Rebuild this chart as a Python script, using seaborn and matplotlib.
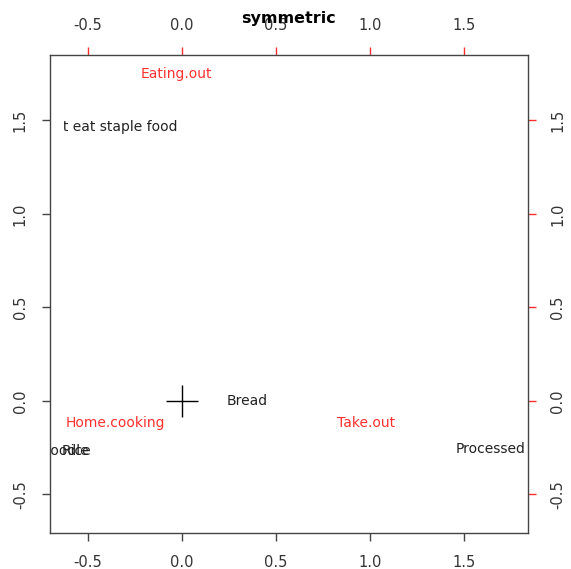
import matplotlib
matplotlib.use("Agg")
import matplotlib.pyplot as plt
from matplotlib.transforms import Bbox
import seaborn as sns

sns.set_theme(style="white")
plt.rcParams["font.family"] = ["DejaVu Sans"]

# Row coordinates (staple food types)
row_labels = ["Bread", "Processed", "Rice", "Noodle", "Don't eat staple food"]
row_x = [0.35, 1.64, -0.56, -0.62, -0.41]
row_y = [0.0, -0.257, -0.267, -0.267, 1.465]

# Column coordinates (eating style)
col_labels = ["Eating.out", "Home.cooking", "Take.out"]
col_x = [-0.03, -0.35, 0.98]
col_y = [1.75, -0.118, -0.118]

# Origin marker
origin_x = [0.0]
origin_y = [0.0]

ticks = [-0.5, 0.0, 0.5, 1.0, 1.5]
tick_text = ["-0.5", "0.0", "0.5", "1.0", "1.5"]

W, H = 571, 569
fig = plt.figure(figsize=(W / 100, H / 100), dpi=100)
ax = fig.add_axes([50 / W, (H - 533) / H, 478 / W, 478 / H])

sns.scatterplot(x=origin_x, y=origin_y, marker="+", s=540, color="black",
                linewidth=1.0, ax=ax, legend=False)

# glyphs crossing the left edge of the panel are dropped
for lab, x, y in zip(row_labels, row_x, row_y):
    t = ax.text(x, y, lab, ha="center", va="center", fontsize=10,
                color="#222222", clip_on=True)
    if lab.startswith("Don't"):
        t.set_clip_box(Bbox.from_extents(63.5, H - 533, 528, H - 55))
    elif lab == "Noodle":
        t.set_clip_box(Bbox.from_extents(50, H - 533, 528, H - 55))
for lab, x, y in zip(col_labels, col_x, col_y):
    ax.text(x, y, lab, ha="center", va="center", fontsize=10,
            color="#ff3030", clip_on=True)

ax.set_xlim(-0.70, 1.84)
ax.set_ylim(-0.706, 1.85)
ax.set_xlabel("")
ax.set_ylabel("")

for sp in ax.spines.values():
    sp.set_color("#444444")
    sp.set_linewidth(1.0)
    sp.set_visible(True)

ax.set_xticks(ticks)
ax.set_xticklabels(tick_text)
ax.set_yticks(ticks)
ax.set_yticklabels(tick_text, rotation=90, va="center")
ax.tick_params(axis="both", direction="out", length=6, width=1,
               color="#444444", labelcolor="#333333", labelsize=10.5, pad=10,
               bottom=True, left=True)

top = ax.secondary_xaxis("top")
top.set_xticks(ticks)
top.set_xticklabels(tick_text)
top.tick_params(direction="out", length=6, width=1, color="#ff3030",
                labelcolor="#333333", labelsize=10.5, pad=10)
top.spines["top"].set_visible(False)

right = ax.secondary_yaxis("right")
right.set_yticks(ticks)
right.set_yticklabels(tick_text, rotation=90, va="center")
right.tick_params(direction="out", length=6, width=1, color="#ff3030",
                  labelcolor="#333333", labelsize=10.5, pad=10)
right.spines["right"].set_visible(False)

fig.text(289 / W, 1 - 19 / H, "symmetric", ha="center", va="center",
         fontsize=11.5, fontweight="bold", color="black")

fig.savefig("out.png", dpi=100, facecolor="white")
